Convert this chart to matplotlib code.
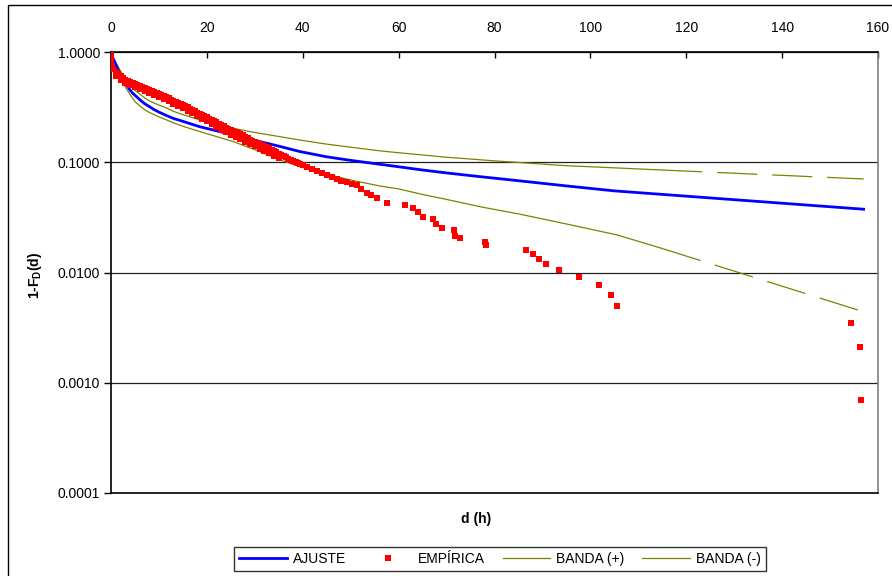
import numpy as np
import matplotlib
matplotlib.use('Agg')
import matplotlib.pyplot as plt
from matplotlib.patches import Rectangle
from matplotlib.ticker import FixedLocator, FuncFormatter, NullLocator

plt.rcParams['font.family'] = ['Liberation Sans', 'DejaVu Sans']
plt.rcParams['mathtext.fontset'] = 'custom'
plt.rcParams['mathtext.rm'] = 'Liberation Sans'
plt.rcParams['mathtext.bf'] = 'Liberation Sans:bold'

# curva ajustada
ajuste_x = [0, 0.5, 1, 1.5, 2, 2.6, 3.3, 4, 4.6, 5, 6, 7, 8, 9, 10, 11.6, 13, 15, 18.5,
            22, 25.5, 30, 35, 39.4, 45, 50, 56, 60, 65, 70, 77, 85, 95, 105, 157]
ajuste_y = [1.0, 0.86, 0.77, 0.69, 0.62, 0.56, 0.50, 0.45, 0.42, 0.405, 0.37, 0.34,
            0.32, 0.30, 0.285, 0.265, 0.25, 0.235, 0.21, 0.193, 0.177, 0.158, 0.14,
            0.125, 0.112, 0.104, 0.096, 0.091, 0.085, 0.080, 0.074, 0.068, 0.061,
            0.055, 0.0375]

# banda superior (tramo continuo y tramo discontinuo)
banda_sup_x = [0, 0.5, 1, 1.5, 2, 3, 4, 4.6, 5, 6, 7, 8, 10, 11.6, 13, 15, 18.5, 22,
               25.5, 30, 32.4, 39.4, 45, 50, 56, 60, 70, 80, 87.3, 95, 105, 115]
banda_sup_y = [1.0, 0.88, 0.80, 0.73, 0.67, 0.58, 0.50, 0.468, 0.45, 0.415, 0.385,
               0.36, 0.33, 0.31, 0.29, 0.27, 0.242, 0.22, 0.203, 0.186, 0.179, 0.159,
               0.146, 0.137, 0.127, 0.122, 0.111, 0.103, 0.098, 0.093, 0.089, 0.085]
banda_sup_ext_x = [115, 157]
banda_sup_ext_y = [0.085, 0.0705]

# banda inferior
banda_inf_x = [0, 0.5, 1, 1.5, 2, 3, 4, 5, 6, 7, 8, 10, 11.6, 13, 15, 18.5, 22, 25.5,
               30, 32.4, 35, 39.4, 45, 50, 56, 60, 65, 70, 77, 85, 91, 97.7, 105.6, 115]
banda_inf_y = [1.0, 0.83, 0.72, 0.64, 0.58, 0.48, 0.41, 0.355, 0.325, 0.30, 0.283,
               0.258, 0.242, 0.228, 0.212, 0.19, 0.171, 0.154, 0.13, 0.118, 0.106,
               0.091, 0.078, 0.069, 0.061, 0.0573, 0.051, 0.046, 0.0395, 0.034, 0.030,
               0.026, 0.0219, 0.0165]
banda_inf_ext_x = [115, 157]
banda_inf_ext_y = [0.0165, 0.0044]

# datos empiricos: tramo denso (centro de la banda)
emp_x = [0, 0, 0, 0.05, 0.1, 0.2, 0.3, 0.5, 1.0, 1.5, 2.0, 2.5, 3.0, 3.5, 4.0, 4.5,
         5.0, 5.5, 6.0, 6.5, 7.0, 7.5, 8.0, 8.5, 9.0, 9.5, 10.0, 10.5, 11.0, 11.5,
         12.0, 12.5, 13.0, 13.5, 14.0, 14.5, 15.0, 15.5, 16.0, 16.5, 17.0, 17.5,
         18.0, 18.5, 19.0, 19.5, 20.0, 20.5, 21.0, 21.5, 22.0, 22.5, 23.0, 23.5,
         24.0, 24.5, 25.0, 25.5, 26.0, 26.5, 27.0, 27.5, 28.0, 28.5, 29.0, 29.5,
         30.0, 30.5, 31.0, 31.5, 32.0, 32.5, 33.0, 33.5, 34.0, 34.5, 35.0, 35.5,
         36.0, 36.5, 37.0, 37.5, 38.0, 38.5, 39.0, 39.5, 40.0]
emp_y = [1.0, 0.93, 0.86, 0.81, 0.77, 0.74, 0.72, 0.70, 0.665, 0.635, 0.605, 0.582,
         0.562, 0.546, 0.532, 0.520, 0.509, 0.499, 0.489, 0.479, 0.469, 0.460, 0.451,
         0.442, 0.433, 0.424, 0.415, 0.406, 0.397, 0.388, 0.379, 0.370, 0.361, 0.352,
         0.344, 0.337, 0.330, 0.322, 0.314, 0.306, 0.298, 0.290, 0.282, 0.275, 0.268,
         0.261, 0.255, 0.249, 0.243, 0.237, 0.230, 0.223, 0.217, 0.211, 0.205, 0.200,
         0.196, 0.192, 0.187, 0.183, 0.179, 0.175, 0.170, 0.165, 0.160, 0.156, 0.152,
         0.149, 0.146, 0.143, 0.140, 0.137, 0.134, 0.130, 0.126, 0.123, 0.120, 0.117,
         0.114, 0.111, 0.108, 0.105, 0.103, 0.100, 0.098, 0.096, 0.094]

# borde inferior de la banda densa
emp_inf_x = [1, 2, 3, 4, 5, 6, 7, 8, 9, 10, 11, 12, 13, 14, 15, 16, 17, 18, 19, 20,
             21, 22, 23, 24, 25, 26, 27, 28, 29, 30, 31, 32, 33, 34, 35]
emp_inf_y = [0.61, 0.56, 0.525, 0.50, 0.48, 0.46, 0.442, 0.425, 0.408, 0.39, 0.374,
             0.357, 0.34, 0.325, 0.31, 0.292, 0.277, 0.262, 0.248, 0.235, 0.222, 0.209,
             0.197, 0.187, 0.178, 0.17, 0.162, 0.154, 0.146, 0.139, 0.133, 0.127,
             0.121, 0.115, 0.109]

# tramo disperso
emp_disp_x = [40.8, 42.0, 42.9, 44.0, 45.0, 46.0, 47.1, 48.0, 49.2, 50.2, 51.25, 52.2,
              53.3, 54.3, 55.4, 57.5, 61.25, 62.9, 64.0, 65.0, 67.1, 67.7, 69.0, 71.5,
              71.7, 72.9, 78.1, 78.3, 86.5, 88.1, 89.2, 90.8, 93.5, 97.7, 101.9, 104.4,
              105.6, 154.4, 156.25, 156.5]
emp_disp_y = [0.0906, 0.087, 0.0833, 0.080, 0.0766, 0.073, 0.0705, 0.068, 0.0662,
              0.064, 0.0622, 0.057, 0.0526, 0.050, 0.0474, 0.0427, 0.041, 0.0385,
              0.0354, 0.0319, 0.0306, 0.0275, 0.0253, 0.0243, 0.0214, 0.0206, 0.0189,
              0.0178, 0.016, 0.0147, 0.0133, 0.0119, 0.0105, 0.0091, 0.0077, 0.0063,
              0.0050, 0.0035, 0.0021, 0.0007]

yticks = [0.0001, 0.001, 0.01, 0.1, 1.0]
xticks = [0, 20, 40, 60, 80, 100, 120, 140, 160]

olive = '#808000'
rojo = '#FF0000'

fig = plt.figure(figsize=(8.92, 5.76), dpi=100)
ax = fig.add_axes([111 / 892, 1 - 493 / 576, (878 - 111) / 892, (493 - 52) / 576])

ax.plot(ajuste_x, ajuste_y, color='#0000FF', lw=2.0, label='AJUSTE', zorder=3)
ax.plot(emp_x, emp_y, ls='none', marker='s', ms=4.2, color=rojo, mew=0,
        label='EMPÍRICA', zorder=5)
ax.plot(emp_inf_x, emp_inf_y, ls='none', marker='s', ms=4.2, color=rojo, mew=0, zorder=5)
ax.plot(emp_disp_x, emp_disp_y, ls='none', marker='s', ms=4.2, color=rojo, mew=0, zorder=5)
ax.plot(banda_sup_x, banda_sup_y, color=olive, lw=0.9, label='BANDA (+)', zorder=2)
ax.plot(banda_inf_x, banda_inf_y, color=olive, lw=0.9, label='BANDA (-)', zorder=2)
ax.plot(banda_sup_ext_x, banda_sup_ext_y, color=olive, lw=0.9, dashes=(32, 12), zorder=2)
ax.plot(banda_inf_ext_x, banda_inf_ext_y, color=olive, lw=0.9, dashes=(32, 12), zorder=2)

ax.set_yscale('log')
ax.set_ylim(0.0001, 1.0)
ax.set_xlim(0, 160)
ax.yaxis.set_major_locator(FixedLocator(yticks))
ax.yaxis.set_minor_locator(NullLocator())
ax.yaxis.set_major_formatter(FuncFormatter(lambda v, p: f'{v:.4f}'))
ax.set_xticks(xticks)

ax.xaxis.tick_top()
ax.tick_params(axis='x', direction='in', length=4, width=1, pad=12, labelsize=10)
ax.tick_params(axis='y', direction='out', length=5, width=1, pad=3, labelsize=10)

ax.grid(True, axis='y', color='#202020', lw=0.9)
ax.set_axisbelow(True)
for s in ['top', 'left', 'bottom']:
    ax.spines[s].set_color('black')
    ax.spines[s].set_linewidth(1.2)
ax.spines['right'].set_color('#808080')
ax.spines['right'].set_linewidth(1.2)

fig.text(476 / 892, 1 - 519 / 576, 'd (h)', ha='center', va='center',
         fontsize=10, fontweight='bold')
fig.text(35 / 892, 1 - 275 / 576, r'1-F$_\mathbf{D}$(d)', ha='center', va='center',
         rotation=90, fontsize=10, fontweight='bold')

leg = fig.legend(loc='center', bbox_to_anchor=(500 / 892, 1 - 559 / 576), ncol=4,
                 fontsize=10, frameon=True, fancybox=False, edgecolor='black',
                 handlelength=3.4, handletextpad=0.45, columnspacing=1.3,
                 borderpad=0.35, numpoints=1, markerscale=1.0)
leg.get_frame().set_linewidth(1.0)

fig.patches.append(Rectangle((8 / 892, -0.05), 1.2, 1.05 - 5 / 576,
                             transform=fig.transFigure, fill=False,
                             edgecolor='black', lw=1.0))

fig.savefig('out.png', dpi=100)
